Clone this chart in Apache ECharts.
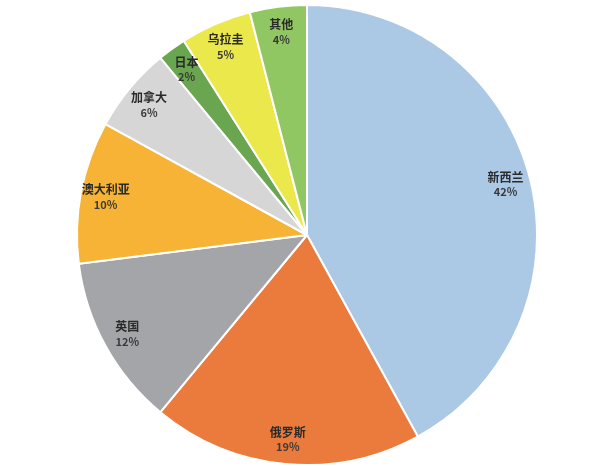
<!DOCTYPE html>
<html><head><meta charset="utf-8">
<script src="https://cdn.jsdelivr.net/npm/echarts@6/dist/echarts.min.js"></script>
<style>html,body{margin:0;padding:0;background:#fff}#c{width:600px;height:466px}</style>
</head><body><div id="c"></div>
<script>
var categories = ['新西兰','俄罗斯','英国','澳大利亚','加拿大','日本','乌拉圭','其他'];
var values = [42, 19, 12, 10, 6, 2, 5, 4];
var colors = ['#abc8e4','#ea7b3c','#a4a5a8','#f6b336','#d6d6d6','#6aa550','#ebe84c','#91c762'];

var data = categories.map(function(n,i){return {name:n, value:values[i], itemStyle:{color:colors[i]}};});
var labelData = categories.map(function(n,i){return {name:n, value:values[i]};});

var chart = echarts.init(document.getElementById('c'), null, {renderer:'canvas'});
chart.setOption({
  animation:false,
  series:[
    {type:'pie', center:[307,235], radius:[0,230], startAngle:90, clockwise:true,
     data:data, label:{show:false}, labelLine:{show:false},
     itemStyle:{borderColor:'#ffffff', borderWidth:2}, silent:true},
    {type:'pie', center:[307,235], radius:[174,230], startAngle:90, clockwise:true,
     data:labelData, silent:true, z:3,
     itemStyle:{color:'rgba(0,0,0,0)', borderWidth:0},
     labelLine:{show:false},
     label:{show:true, position:'inside', formatter:'{n|{b}}\n{p|{d}%}',
       rich:{
         n:{fontFamily:'Noto Sans CJK SC', fontSize:12, fontWeight:'bold', color:'#2a2a2a', lineHeight:16},
         p:{fontFamily:'Noto Sans CJK SC', fontSize:11, fontWeight:'bold', color:'#3a3a3a', lineHeight:14}
       }}}
  ]
});
</script></body></html>
